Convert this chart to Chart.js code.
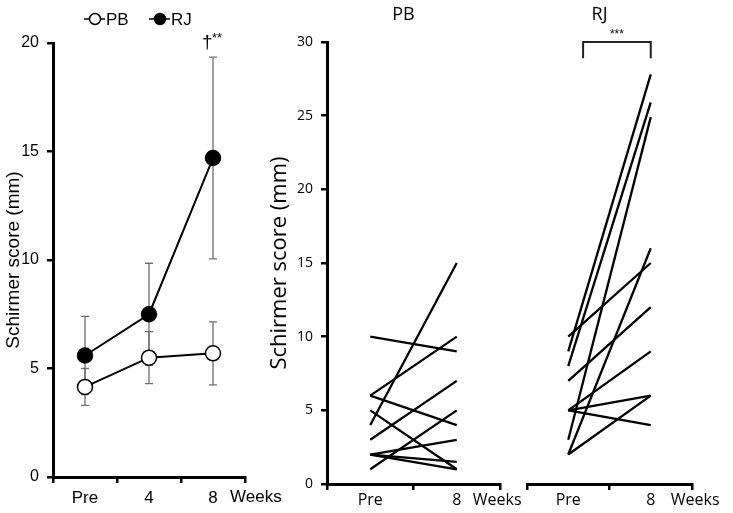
<!DOCTYPE html>
<html>
<head>
<meta charset="utf-8">
<script src="https://cdn.jsdelivr.net/npm/chart.js@4.4.1/dist/chart.umd.min.js"></script>
<style>
  body { margin: 0; background: #fff; }
  #wrap { position: relative; width: 733px; height: 513px; overflow: hidden; }
  canvas { position: absolute; top: 0; }
</style>
</head>
<body>
<div id="wrap">
  <canvas id="meanChart" width="285" height="513" style="left:0px"></canvas>
  <canvas id="pbChart" width="260" height="513" style="left:265px"></canvas>
  <canvas id="rjChart" width="228" height="513" style="left:505px"></canvas>
</div>
<script>
// left panel: group means with SD
const weekLabels = ['Pre', '4', '8'];
const pbMean = [4.15, 5.5, 5.7];
const pbSD = [0.85, 1.2, 1.45];
const rjMean = [5.6, 7.5, 14.7];
const rjSD = [1.8, 2.35, 4.65];

// right panels: individual subjects, Pre -> 8 weeks
const pairLabels = ['Pre', '8'];
const pbPre = [10, 4, 6, 6, 3, 5, 2, 2, 2, 1];
const pbWeek8 = [9, 15, 10, 4, 7, 1, 3, 1.5, 1, 5];
const rjPre = [10, 9, 8, 7, 5, 5, 5, 3, 2, 2];
const rjWeek8 = [15, 27.8, 25.9, 12, 9, 6, 4, 24.9, 6, 16];

const leftFont = "'Liberation Sans', Arial, sans-serif";
const rightFont = "'Open Sans', sans-serif";

Chart.defaults.animation = false;
Chart.defaults.color = '#000';
Chart.defaults.plugins.legend.display = false;
Chart.defaults.plugins.tooltip.enabled = false;

function xAxis(font, size, h, pad) {
    return {
        type: 'category',
        offset: true,
        grid: { offset: true, drawOnChartArea: false, tickLength: 6, color: '#000', lineWidth: 2.5 },
        border: { color: '#000', width: 3 },
        ticks: { font: { family: font, size: size }, padding: pad, color: '#000' },
        afterFit: s => { s.height = h; }
    };
}

function yAxis(max, font, size, titleSize, w) {
    return {
        min: 0, max: max,
        ticks: { stepSize: 5, font: { family: font, size: size }, padding: 8, color: '#000' },
        grid: { drawOnChartArea: false, tickLength: 6, color: '#000', lineWidth: 2.5 },
        border: { color: '#000', width: 3 },
        title: { display: true, text: 'Schirmer score (mm)', font: { family: font, size: titleSize }, padding: { top: 2, bottom: 0 }, color: '#000' },
        afterFit: s => { s.width = w; }
    };
}

// "Weeks" text after the last category label
function weeksText(font, size, gap, drop) {
    return {
        id: 'weeks',
        afterDraw(chart) {
            const x = chart.scales.x, ctx = chart.ctx;
            const last = x.getPixelForValue(x.getLabels().length - 1);
            ctx.save();
            ctx.font = size + 'px ' + font;
            ctx.fillStyle = '#000';
            ctx.textBaseline = 'top';
            ctx.fillText('Weeks', last + gap, x.top + drop);
            ctx.restore();
        }
    };
}

const errorBars = {
    id: 'errorBars',
    beforeDatasetsDraw(chart) {
        const ctx = chart.ctx, x = chart.scales.x, y = chart.scales.y;
        ctx.save();
        ctx.strokeStyle = '#6e6e6e';
        ctx.lineWidth = 1.3;
        chart.data.datasets.forEach(ds => {
            ds.data.forEach((v, i) => {
                const px = x.getPixelForValue(i);
                const hi = y.getPixelForValue(v + ds.sd[i]);
                const lo = y.getPixelForValue(v - ds.sd[i]);
                ctx.beginPath();
                ctx.moveTo(px, hi); ctx.lineTo(px, lo);
                ctx.moveTo(px - 4, hi); ctx.lineTo(px + 4, hi);
                ctx.moveTo(px - 4, lo); ctx.lineTo(px + 4, lo);
                ctx.stroke();
            });
        });
        ctx.restore();
    }
};

const meanLegend = {
    id: 'meanLegend',
    afterDraw(chart) {
        const ctx = chart.ctx;
        ctx.save();
        ctx.font = '17px ' + leftFont;
        ctx.textBaseline = 'middle';
        ctx.fillStyle = '#000';
        chart.data.datasets.forEach((ds, i) => {
            const cx = 95 + i * 65, cy = 19;
            ctx.strokeStyle = '#000';
            ctx.lineWidth = 1.5;
            ctx.beginPath(); ctx.moveTo(cx - 11, cy); ctx.lineTo(cx + 10, cy); ctx.stroke();
            ctx.beginPath(); ctx.arc(cx, cy, 5.5, 0, Math.PI * 2);
            ctx.fillStyle = ds.pointBackgroundColor; ctx.fill(); ctx.stroke();
            ctx.fillStyle = '#000';
            ctx.fillText(ds.label, cx + 11, cy + 1);
        });
        // significance mark over week 8
        const px = chart.scales.x.getPixelForValue(2);
        ctx.font = '19px ' + leftFont;
        ctx.fillText('\u2020', px - 11, 43);
        ctx.font = '13px ' + leftFont;
        ctx.fillText('**', px - 1, 38);
        ctx.restore();
    }
};

new Chart(document.getElementById('meanChart'), {
    type: 'line',
    data: {
        labels: weekLabels,
        datasets: [
            { label: 'PB', data: pbMean, sd: pbSD, borderColor: '#000', borderWidth: 2,
              pointRadius: 7.5, pointBackgroundColor: '#fff', pointBorderColor: '#000', pointBorderWidth: 1.5 },
            { label: 'RJ', data: rjMean, sd: rjSD, borderColor: '#000', borderWidth: 2,
              pointRadius: 7.5, pointBackgroundColor: '#000', pointBorderColor: '#000', pointBorderWidth: 1.5 }
        ]
    },
    options: {
        responsive: false,
        layout: { padding: { top: 43, right: 40, left: 0, bottom: 0 } },
        scales: {
            x: xAxis(leftFont, 17, 36, 5),
            y: yAxis(20, leftFont, 16, 19, 53)
        }
    },
    plugins: [errorBars, meanLegend, weeksText(leftFont, 17, 17, 12)]
});

function pairSets(pre, post) {
    return pre.map((v, i) => ({
        data: [v, post[i]],
        borderColor: '#000',
        borderWidth: 2.3,
        pointRadius: 0
    }));
}

function panelTitle(text) {
    return {
        id: 'panelTitle',
        afterDraw(chart) {
            const x = chart.scales.x, ctx = chart.ctx;
            const mid = (x.getPixelForValue(0) + x.getPixelForValue(1)) / 2 - 10;
            ctx.save();
            ctx.font = '18px ' + rightFont;
            ctx.fillStyle = '#000';
            ctx.textAlign = 'center';
            ctx.textBaseline = 'middle';
            ctx.fillText(text, mid, 15);
            ctx.restore();
        }
    };
}

const bracket = {
    id: 'bracket',
    afterDraw(chart) {
        const x = chart.scales.x, y = chart.scales.y, ctx = chart.ctx;
        const x0 = x.getPixelForValue(0), x1 = x.getPixelForValue(1);
        const left = x0 + (x1 - x0) * 0.18;
        const top = y.getPixelForValue(30), foot = y.getPixelForValue(28.9);
        ctx.save();
        ctx.strokeStyle = '#222';
        ctx.lineWidth = 2;
        ctx.beginPath();
        ctx.moveTo(left, foot); ctx.lineTo(left, top); ctx.lineTo(x1, top); ctx.lineTo(x1, foot);
        ctx.stroke();
        ctx.font = '12px ' + leftFont;
        ctx.fillStyle = '#000';
        ctx.textAlign = 'center';
        ctx.textBaseline = 'middle';
        ctx.fillText('***', (left + x1) / 2, top - 7);
        ctx.restore();
    }
};

new Chart(document.getElementById('pbChart'), {
    type: 'line',
    data: { labels: pairLabels, datasets: pairSets(pbPre, pbWeek8) },
    options: {
        responsive: false,
        layout: { padding: { top: 42, right: 25, left: 0, bottom: 0 } },
        scales: {
            x: xAxis(rightFont, 16, 29, 1),
            y: yAxis(30, rightFont, 14, 22, 62)
        }
    },
    plugins: [panelTitle('PB'), weeksText(rightFont, 16, 16, 8)]
});

new Chart(document.getElementById('rjChart'), {
    type: 'line',
    data: { labels: pairLabels, datasets: pairSets(rjPre, rjWeek8) },
    options: {
        responsive: false,
        layout: { padding: { top: 42, right: 41, left: 22, bottom: 0 } },
        scales: {
            x: xAxis(rightFont, 16, 29, 1),
            y: { display: false, min: 0, max: 30 }
        }
    },
    plugins: [panelTitle('RJ'), bracket, weeksText(rightFont, 16, 20, 8)]
});
</script>
</body>
</html>
